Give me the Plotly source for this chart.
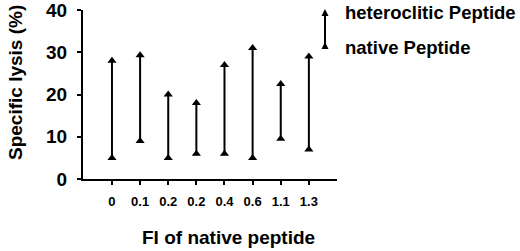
import plotly.graph_objects as go

categories = ["0", "0.1", "0.2", "0.2", "0.4", "0.6", "1.1", "1.3"]
native = [5, 9, 5, 6, 6, 5, 9.5, 7]
heteroclitic = [28, 29.3, 20, 18, 27, 31, 22.5, 29]
y_ticks = [0, 10, 20, 30, 40]

xs = list(range(len(categories)))
FONT = "Liberation Sans, Arial, sans-serif"

line_x, line_y = [], []
for i, lo, hi in zip(xs, native, heteroclitic):
    line_x += [i, i, None]
    line_y += [lo, hi, None]

fig = go.Figure()
fig.add_trace(go.Scatter(x=line_x, y=line_y, mode="lines",
                         line=dict(color="black", width=2), hoverinfo="skip",
                         showlegend=False))
fig.add_trace(go.Scatter(x=xs + xs, y=native + heteroclitic, mode="markers",
                         marker=dict(symbol="triangle-up", size=8, color="black",
                                     line=dict(width=0)),
                         showlegend=False))

# paper-coordinate helpers (plot area: x 83..337, y 10..179 px)
def px(x):
    return (x - 83) / 254

def py(y):
    return (179 - y) / 169

# legend glyph (arrow)
lx = 325
fig.add_shape(type="line", xref="paper", yref="paper",
              x0=px(lx), x1=px(lx), y0=py(46), y1=py(12),
              line=dict(color="black", width=2))
for tip, base in [(9, 16), (42, 49)]:
    fig.add_shape(type="path", xref="paper", yref="paper",
                  path=f"M {px(lx-3.5)},{py(base)} L {px(lx+3.5)},{py(base)} L {px(lx)},{py(tip)} Z",
                  fillcolor="black", line=dict(width=0))

def label(text, x, y, size=18, angle=0, xanchor="left"):
    fig.add_annotation(x=px(x), y=py(y), xref="paper", yref="paper",
                       text=text, showarrow=False, textangle=angle,
                       xanchor=xanchor, yanchor="middle",
                       font=dict(family=FONT, size=size, color="black", weight="bold"))

label("heteroclitic Peptide", 343, 13, size=18.5)
label("native Peptide", 343, 47, size=18.5)
label("FI of native peptide", 228, 237, size=19, xanchor="center")
label("Specific lysis (%)", 15, 83, size=19, angle=-90, xanchor="center")

fig.update_layout(
    width=520, height=251,
    margin=dict(l=83, r=183, t=10, b=72, autoexpand=False),
    paper_bgcolor="white", plot_bgcolor="white",
    font=dict(family=FONT, color="black", weight="bold"),
    xaxis=dict(range=[-1.03, 8.0], tickvals=xs, ticktext=categories,
               showline=True, linecolor="black", linewidth=2,
               ticks="outside", ticklen=4, tickwidth=1.5, tickcolor="black",
               showgrid=False, zeroline=False, ticklabelstandoff=5,
               automargin=False, ticklabeloverflow="allow",
               tickfont=dict(size=13, weight="bold")),
    yaxis=dict(range=[0, 40], tickvals=y_ticks,
               showline=True, linecolor="black", linewidth=2,
               ticks="outside", ticklen=4, tickwidth=1.5, tickcolor="black",
               showgrid=False, zeroline=False, ticklabelstandoff=6,
               automargin=False, ticklabeloverflow="allow",
               tickfont=dict(size=19, weight="bold")),
)

fig.write_html("out.html", config={"displayModeBar": False},
               post_script="document.body.style.margin='0';document.body.style.overflow='hidden';")
